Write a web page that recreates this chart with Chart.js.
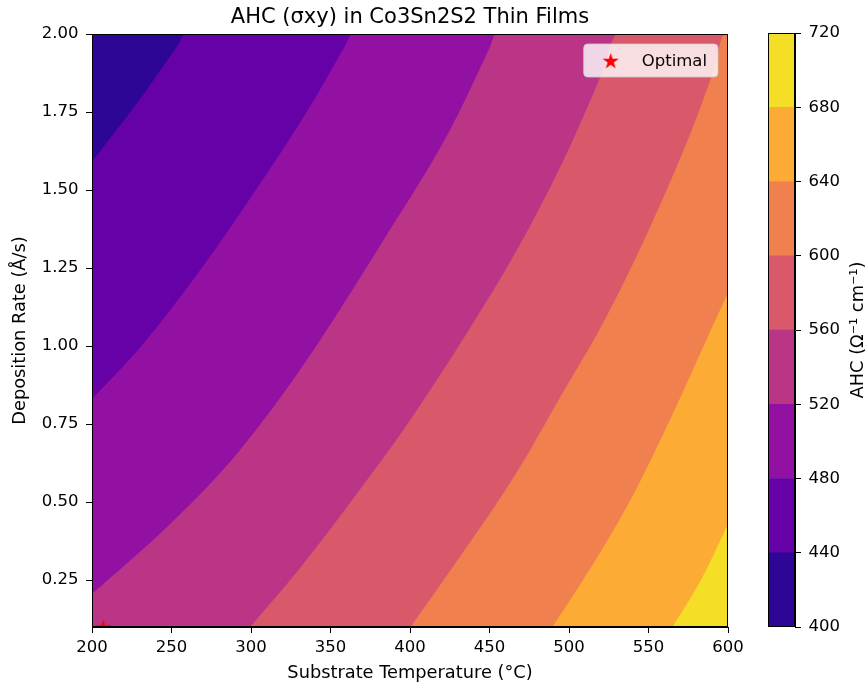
<!DOCTYPE html>
<html>
<head>
<meta charset="utf-8">
<script src="https://cdn.jsdelivr.net/npm/chart.js@4.4.0/dist/chart.umd.min.js"></script>
<style>
  body { margin: 0; background: #fff; }
  #wrap { position: relative; width: 867px; height: 686px; }
  #main { position: absolute; left: 0; top: 0; }
  #cbar { position: absolute; left: 740px; top: 0; }
</style>
</head>
<body>
<div id="wrap">
  <canvas id="main" width="867" height="686"></canvas>
  <canvas id="cbar" width="127" height="686"></canvas>
</div>
<script>
// axis ranges and ticks
const tempRange = [200, 600];
const rateRange = [0.1, 2.0];
const tempTicks = [200, 250, 300, 350, 400, 450, 500, 550, 600];
const rateTicks = [0.25, 0.5, 0.75, 1.0, 1.25, 1.5, 1.75, 2.0];
const levels = [400, 440, 480, 520, 560, 600, 640, 680, 720];

// contour boundaries as [temperature, rate], left to right
const edge440 = [[200, 1.59], [215, 1.69], [230, 1.79], [244.5, 1.895], [254, 1.965], [258.5, 2.0]];
const edge480 = [[200, 0.83], [231, 1.0], [269, 1.25], [303, 1.5], [335, 1.75], [359, 1.96], [363.6, 2.0]];
const edge520 = [[200, 0.206], [247, 0.42], [287, 0.63], [331, 0.925], [384, 1.345], [424.4, 1.685], [450, 1.955], [454, 2.0]];
const edge560 = [[299.5, 0.1], [331, 0.29], [367, 0.53], [397, 0.74], [438, 1.06], [467.5, 1.31], [496, 1.59], [519.5, 1.86], [530.5, 2.0]];
const edge600 = [[400.3, 0.1], [428, 0.30], [466.5, 0.59], [496, 0.85], [521, 1.07], [550, 1.37], [577, 1.69], [590, 1.87], [598, 2.0]];
const edge640 = [[489.6, 0.1], [515, 0.30], [540, 0.52], [565, 0.78], [589.5, 1.055], [600, 1.17]];
const edge680 = [[565.2, 0.1], [584, 0.26], [600, 0.43]];

const optimalPoint = [207, 0.1];
const optimalLabel = 'Optimal';

// plasma colours for the 8 bands
const bandColors = ['#2e0695', '#6501a7', '#9311a2', '#bb3587', '#d9596a', '#f0804e', '#fcab34', '#f5df26'];

const FONT = '"DejaVu Sans", sans-serif';
const edges = [edge440, edge480, edge520, edge560, edge600, edge640, edge680];

// line whose area down to the x axis is "value >= level";
// a boundary leaving through the top edge continues along it to the right
function bandLine(edge) {
  const pts = edge.map(([x, y]) => ({x, y}));
  const last = edge[edge.length - 1];
  if (last[1] === rateRange[1] && last[0] < tempRange[1]) {
    pts.push({x: tempRange[1], y: rateRange[1]});
  }
  return pts;
}

function topEdge() {
  return [{x: tempRange[0], y: rateRange[1]}, {x: tempRange[1], y: rateRange[1]}];
}

// filled 5-point star, like matplotlib's '*' marker
function makeStar(size, color) {
  const c = document.createElement('canvas');
  c.width = size; c.height = size;
  const g = c.getContext('2d');
  const R = size / 2, r = R * 0.382;
  g.beginPath();
  for (let k = 0; k < 10; k++) {
    const rad = k % 2 ? r : R;
    const a = -Math.PI / 2 + k * Math.PI / 5;
    g.lineTo(R + rad * Math.cos(a), R + 1 + rad * Math.sin(a));
  }
  g.closePath();
  g.fillStyle = color;
  g.fill();
  return c;
}
const star = makeStar(17, '#ff0000');

function fixedTicks(values) {
  return scale => { scale.ticks = values.map(v => ({value: v})); };
}

const frame = {
  id: 'frame',
  afterDatasetsDraw(chart) {
    const {ctx, chartArea: a} = chart;
    ctx.save();
    ctx.strokeStyle = '#000';
    ctx.lineWidth = 1;
    ctx.strokeRect(Math.round(a.left) + 0.5, Math.round(a.top) + 0.5,
      Math.round(a.right - a.left) - 1, Math.round(a.bottom - a.top) - 1);
    ctx.restore();
  }
};

const legendBox = {
  id: 'legendBox',
  afterDatasetsDraw(chart) {
    const {ctx, chartArea: a} = chart;
    ctx.save();
    ctx.font = '16.5px ' + FONT;
    const tw = ctx.measureText(optimalLabel).width;
    const h = 33, w = tw + 69;
    const right = a.right - 10, top = a.top + 10, left = right - w;
    ctx.beginPath();
    ctx.roundRect(left, top, w, h, 4);
    ctx.fillStyle = 'rgba(255,255,255,0.8)';
    ctx.fill();
    ctx.strokeStyle = 'rgba(204,204,204,0.8)';
    ctx.lineWidth = 1;
    ctx.stroke();
    ctx.drawImage(star, left + 27 - star.width / 2, top + h / 2 - star.height / 2);
    ctx.fillStyle = '#000';
    ctx.textBaseline = 'middle';
    ctx.fillText(optimalLabel, left + 58, top + h / 2 + 1);
    ctx.restore();
  }
};

const datasets = bandColors.map((color, i) => ({
  type: 'line',
  data: i === 0 ? topEdge() : bandLine(edges[i - 1]),
  fill: 'start',
  backgroundColor: color,
  borderColor: color,
  borderWidth: 0,
  pointRadius: 0,
  cubicInterpolationMode: 'monotone',
  order: 20 - i
}));
datasets.push({
  type: 'line',
  label: optimalLabel,
  data: [{x: optimalPoint[0], y: optimalPoint[1]}],
  showLine: false,
  pointStyle: star,
  pointRadius: 8,
  clip: 0,
  order: 0
});

const tickFont = {family: FONT, size: 16.5};
const labelFont = {family: FONT, size: 17.8};
const axisGrid = {display: true, drawOnChartArea: false, drawTicks: true, tickLength: 6, color: '#000'};

new Chart(document.getElementById('main'), {
  type: 'line',
  data: {datasets},
  options: {
    responsive: false,
    animation: false,
    events: [],
    layout: {padding: {left: 0, right: 139, top: 0, bottom: 0}},
    plugins: {
      legend: {display: false},
      tooltip: {enabled: false},
      title: {
        display: true,
        text: 'AHC (σxy) in Co3Sn2S2 Thin Films',
        fullSize: false,
        color: '#000',
        font: {family: FONT, size: 21, weight: 'normal'},
        padding: {top: 4.5, bottom: 4.3}
      }
    },
    scales: {
      x: {
        type: 'linear',
        min: tempRange[0],
        max: tempRange[1],
        afterBuildTicks: fixedTicks(tempTicks),
        afterFit: s => { s.height = 59; },
        ticks: {color: '#000', font: tickFont, padding: 5, autoSkip: false, maxRotation: 0,
          callback: v => String(v)},
        grid: axisGrid,
        border: {display: true, color: '#000'},
        title: {display: true, text: 'Substrate Temperature (°C)', color: '#000',
          font: labelFont, padding: {top: 0, bottom: 2}}
      },
      y: {
        type: 'linear',
        min: rateRange[0],
        max: rateRange[1],
        afterBuildTicks: fixedTicks(rateTicks),
        afterFit: s => { s.width = 92; },
        ticks: {color: '#000', font: tickFont, padding: 7.5, autoSkip: false,
          callback: v => v.toFixed(2)},
        grid: axisGrid,
        border: {display: true, color: '#000'},
        title: {display: true, text: 'Deposition Rate (Å/s)', color: '#000',
          font: labelFont, padding: {top: 10, bottom: 0}}
      }
    }
  },
  plugins: [frame, legendBox]
});

// colorbar
const cbarLabel = {
  id: 'cbarLabel',
  afterDraw(chart) {
    const {ctx, chartArea: a} = chart;
    ctx.save();
    ctx.translate(118, (a.top + a.bottom) / 2);
    ctx.rotate(-Math.PI / 2);
    ctx.font = '17.8px ' + FONT;
    ctx.fillStyle = '#000';
    ctx.textAlign = 'center';
    ctx.textBaseline = 'middle';
    ctx.fillText('AHC (Ω⁻¹ cm⁻¹)', 0, 0);
    ctx.restore();
  }
};

new Chart(document.getElementById('cbar'), {
  type: 'bar',
  data: {
    labels: [''],
    datasets: bandColors.map((color, i) => ({
      data: [[levels[i], levels[i + 1]]],
      backgroundColor: color,
      borderWidth: 0,
      barPercentage: 1,
      categoryPercentage: 1,
      grouped: false
    }))
  },
  options: {
    responsive: false,
    animation: false,
    events: [],
    layout: {padding: {left: 28, right: 0, top: 33, bottom: 59}},
    plugins: {legend: {display: false}, tooltip: {enabled: false}},
    scales: {
      x: {display: false},
      y: {
        position: 'right',
        min: levels[0],
        max: levels[levels.length - 1],
        afterBuildTicks: fixedTicks(levels),
        afterFit: s => { s.width = 72; },
        ticks: {color: '#000', font: tickFont, padding: 7.5, autoSkip: false},
        grid: axisGrid,
        border: {display: true, color: '#000'}
      }
    }
  },
  plugins: [frame, cbarLabel]
});
</script>
</body>
</html>
